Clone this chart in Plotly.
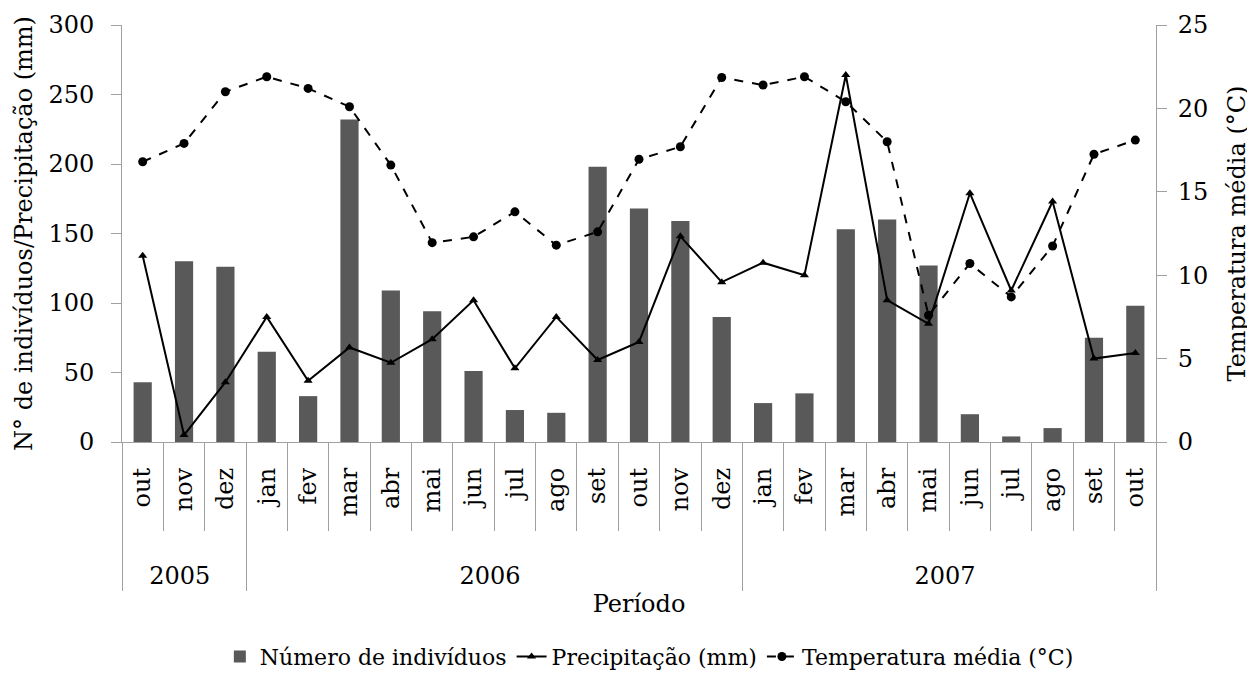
import plotly.graph_objects as go

years = ["2005"] * 3 + ["2006"] * 12 + ["2007"] * 10
months = ["out", "nov", "dez",
          "jan", "fev", "mar", "abr", "mai", "jun", "jul", "ago", "set", "out", "nov", "dez",
          "jan", "fev", "mar", "abr", "mai", "jun", "jul", "ago", "set", "out"]
individuos = [43, 130, 126, 65, 33, 232, 109, 94, 51, 23, 21, 198, 168, 159, 90,
              28, 35, 153, 160, 127, 20, 4, 10, 75, 98]
precipitacao = [134, 5, 43, 90, 44, 68, 57, 74, 102, 53, 90, 59, 72, 148, 115,
                129, 120, 264, 102, 85, 179, 109, 173, 60, 64]
temperatura = [16.8, 17.9, 21.0, 21.9, 21.2, 20.1, 16.6, 11.95, 12.3, 13.8, 11.8, 12.6, 16.95, 17.7, 21.85,
               21.4, 21.9, 20.4, 18.0, 7.6, 10.7, 8.7, 11.75, 17.25, 18.1]

FONT = "DejaVu Serif"
FS = 24
AX = "#a0a0a0"

# Plotly orders multicategory inner labels by first appearance, so months repeated in
# different years are made distinct with zero-width spaces; no-break spaces set the
# spacing of the month and year rows.
year_order = ["2005", "2006", "2007"]
LEAD = "\u00a0" * 3
TRAIL = "\u00a0" * 2
month_labels = [LEAD + m + "\u200b" * year_order.index(y) + TRAIL for y, m in zip(years, months)]
x = [years, month_labels]

fig = go.Figure()
fig.add_trace(go.Bar(x=x, y=individuos, name="Número de indivíduos",
                     marker=dict(color="#595959", line=dict(width=0))))
fig.add_trace(go.Scatter(x=x, y=precipitacao, name="Precipitação (mm)", mode="lines+markers",
                         line=dict(color="black", width=2),
                         marker=dict(symbol="triangle-up", size=8, color="black")))
fig.add_trace(go.Scatter(x=x, y=temperatura, name="Temperatura média (°C)", mode="lines+markers",
                         yaxis="y2",
                         line=dict(color="black", width=2, dash="dash"),
                         marker=dict(symbol="circle", size=9, color="black")))

fig.update_layout(
    width=1247, height=666,
    margin=dict(l=114, r=99, t=17, b=232, autoexpand=False),
    paper_bgcolor="white", plot_bgcolor="white",
    font=dict(family=FONT, size=FS, color="black"),
    bargap=0.56,
    showlegend=True,
    legend=dict(orientation="h", x=0.51, xanchor="center",
                y=-0.515, yanchor="middle",
                font=dict(family=FONT, size=22), tracegroupgap=0, itemwidth=30),
    xaxis=dict(type="multicategory", range=[-0.5, 24.5], automargin=False,
               showline=True, linecolor=AX, linewidth=1,
               ticks="outside", ticklen=88, tickcolor=AX, tickangle=-90,
               showdividers=True, dividercolor=AX, dividerwidth=1,
               tickfont=dict(family=FONT, size=FS),
               title=dict(text="Período", font=dict(family=FONT, size=FS), standoff=5)),
    yaxis=dict(range=[0, 300], dtick=50, showgrid=False, showline=True, linecolor=AX,
               ticks="outside", ticklen=10, tickcolor=AX, zeroline=False, automargin=False,
               ticklabelstandoff=12,
               tickfont=dict(family=FONT, size=FS),
               title=dict(text="N° de indivíduos/Precipitação (mm)",
                          font=dict(family=FONT, size=FS), standoff=8)),
    yaxis2=dict(range=[0, 25], dtick=5, overlaying="y", side="right", showgrid=False,
                showline=True, linecolor=AX, ticks="outside", ticklen=10, automargin=False,
                ticklabelstandoff=6,
                tickcolor=AX, zeroline=False, tickfont=dict(family=FONT, size=FS),
                title=dict(text="Temperatura média (°C)",
                           font=dict(family=FONT, size=FS), standoff=20)),
)

fig.write_html("out.html")
